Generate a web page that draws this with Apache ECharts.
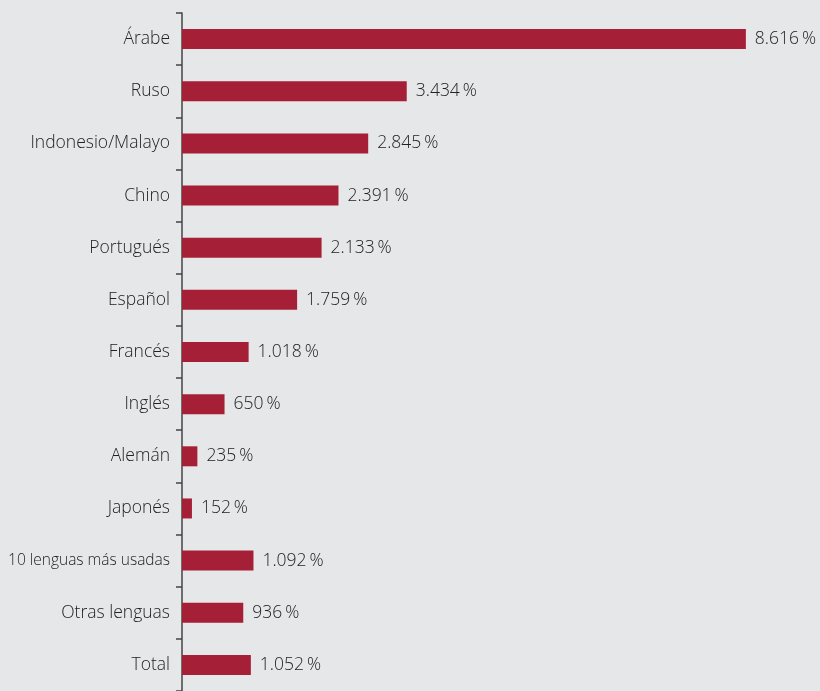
<!DOCTYPE html>
<html>
<head>
<meta charset="utf-8">
<script src="https://cdn.jsdelivr.net/npm/echarts@6/dist/echarts.min.js"></script>
<style>
  html, body { margin: 0; padding: 0; background: #e6e7e8; }
  #main { width: 820px; height: 691px; }
</style>
</head>
<body>
<div id="main"></div>
<script>
var categories = ['Árabe', 'Ruso', 'Indonesio/Malayo', 'Chino', 'Portugués', 'Español',
  'Francés', 'Inglés', 'Alemán', 'Japonés', '10 lenguas más usadas', 'Otras lenguas', 'Total'];
var growth = [8616, 3434, 2845, 2391, 2133, 1759, 1018, 650, 235, 152, 1092, 936, 1052];

function fmt (v) {
  return String(v).replace(/\B(?=(\d{3})+(?!\d))/g, '.') + '\u2009%';
}

var chart = echarts.init(document.getElementById('main'));
chart.setOption({
  backgroundColor: '#e6e7e8',
  textStyle: { fontFamily: 'Open Sans, Liberation Sans, sans-serif', fontWeight: 300 },
  grid: { left: 182, width: 589, top: 13, bottom: -1 },
  xAxis: {
    type: 'value',
    min: 0,
    max: 9000,
    show: false
  },
  yAxis: {
    type: 'category',
    inverse: true,
    data: categories,
    axisLine: { show: true, lineStyle: { color: '#444', width: 1.5 } },
    axisTick: { show: true, length: 6, lineStyle: { color: '#444', width: 1.5 } },
    axisLabel: {
      color: '#222',
      fontSize: 17.5,
      fontWeight: 300,
      margin: 12,
      formatter: function (v) {
        return v.length > 18 ? '{s|' + v + '}' : v;
      },
      rich: { s: { fontSize: 15.5, fontWeight: 300, color: '#222' } }
    }
  },
  series: [{
    type: 'bar',
    data: growth,
    barWidth: 20,
    itemStyle: { color: '#a51f36' },
    label: {
      show: true,
      position: 'right',
      distance: 9,
      color: '#222',
      fontSize: 17.5,
      fontWeight: 300,
      formatter: function (p) { return fmt(p.value); }
    }
  }]
});
</script>
</body>
</html>
